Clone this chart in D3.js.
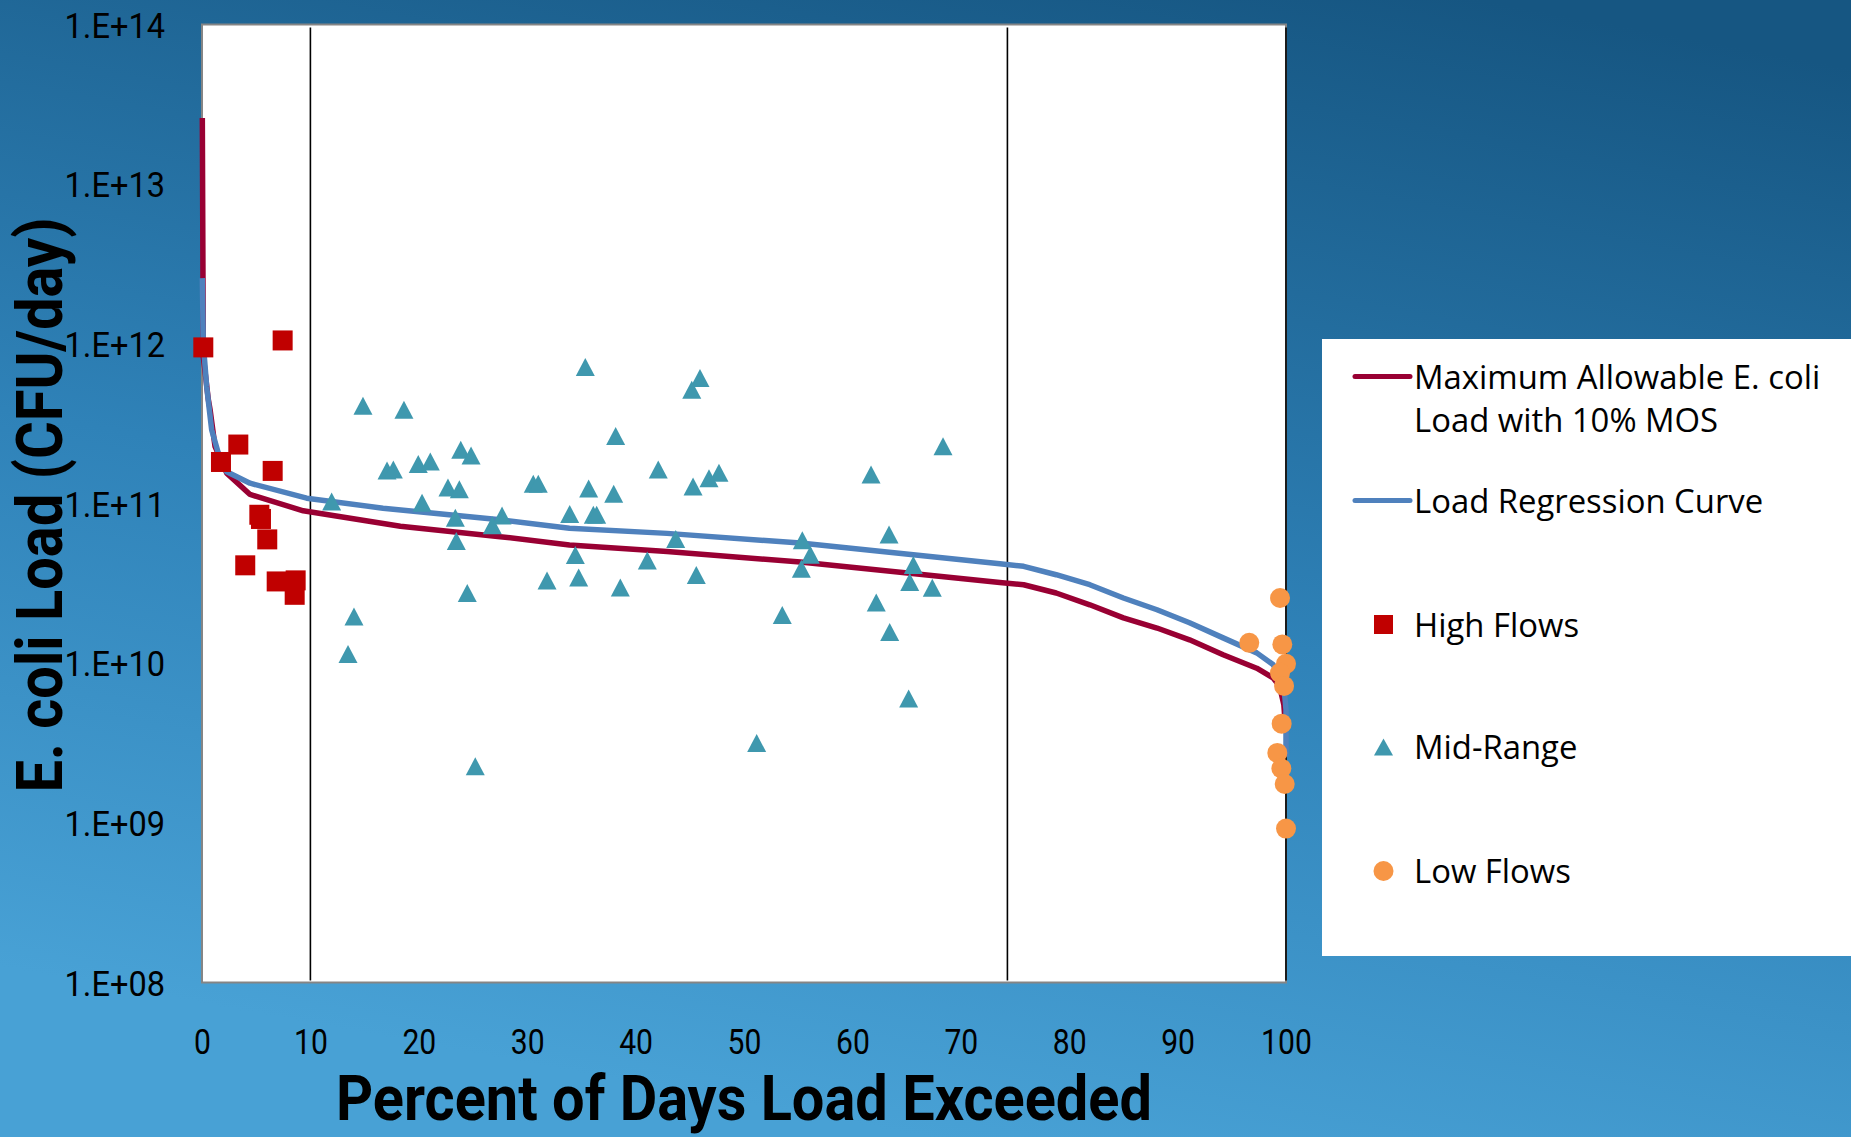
<!DOCTYPE html>
<html>
<head>
<meta charset="utf-8">
<script src="https://cdn.jsdelivr.net/npm/d3@7"></script>
<style>
  html, body { margin: 0; padding: 0; overflow: hidden; }
  svg { display: block; }
</style>
</head>
<body>
<div id="chart"></div>
<script>
// ---- data (percent of days exceeded, E. coli load CFU/day) ----
const xTicks = [0, 10, 20, 30, 40, 50, 60, 70, 80, 90, 100]
const yTicks = [1e8, 1e9, 1e10, 1e11, 1e12, 1e13, 1e14]
const yTickLabels = ['1.E+08', '1.E+09', '1.E+10', '1.E+11', '1.E+12', '1.E+13', '1.E+14']
const zoneBreaks = [10, 74.3, 100]

const maxAllowable = [
  [0.03, 2.6e13], [0.12, 8.3e11], [0.58, 4.5e11], [0.74, 3.9e11], [1.2, 2.28e11],
  [2.28, 1.55e11], [4.43, 1.14e11], [9.34, 9.0e10], [18.3, 7.2e10], [27.5, 6.2e10],
  [33.9, 5.5e10], [42.9, 5.0e10], [55.2, 4.3e10], [73.6, 3.2e10], [75.8, 3.1e10],
  [78.8, 2.75e10], [81.9, 2.32e10], [85.0, 1.92e10], [88.1, 1.66e10], [91.1, 1.40e10],
  [94.2, 1.13e10], [97.3, 9.3e9], [98.8, 8.1e9], [99.4, 7.2e9], [99.8, 5.5e9], [99.95, 4.0e9]
]
const regression = [
  [0.03, 2.58e12], [0.12, 1.0e12], [0.43, 5.4e11], [0.89, 2.9e11], [1.5, 2.07e11],
  [2.28, 1.58e11], [4.43, 1.34e11], [9.66, 1.08e11], [16.7, 9.35e10], [27.5, 7.9e10],
  [33.9, 7.0e10], [42.9, 6.5e10], [55.2, 5.65e10], [73.6, 4.2e10], [75.8, 4.04e10],
  [78.8, 3.58e10], [81.9, 3.1e10], [85.0, 2.56e10], [88.1, 2.16e10], [91.1, 1.79e10],
  [94.2, 1.44e10], [97.3, 1.16e10], [98.8, 9.8e9], [99.75, 7.9e9], [100, 5.1e9], [100, 2.6e9]
]
const highFlows = [
  [0.12, 9.5e11], [7.44, 1.05e12], [3.35, 2.34e11], [1.75, 1.82e11], [6.52, 1.6e11],
  [5.29, 8.5e10], [5.44, 8.0e10], [6.02, 5.96e10], [3.99, 4.1e10], [6.89, 3.25e10],
  [8.64, 3.3e10], [8.55, 2.68e10]
]
const midRange = [
  [14.85, 4.09e11], [18.63, 3.86e11], [23.87, 2.17e11], [24.82, 2.0e11], [17.07, 1.61e11],
  [17.65, 1.63e11], [19.95, 1.77e11], [21.06, 1.83e11], [22.69, 1.26e11], [23.74, 1.23e11],
  [11.96, 1.03e11], [20.30, 1.01e11], [23.37, 8.15e10], [26.78, 7.3e10], [27.68, 8.4e10],
  [23.46, 5.82e10], [24.47, 2.75e10], [14.02, 1.96e10], [13.47, 1.14e10], [25.21, 2.26e9],
  [35.36, 7.15e11], [45.94, 6.1e11], [45.18, 5.15e11], [38.16, 2.65e11], [68.36, 2.28e11],
  [42.09, 1.63e11], [61.72, 1.52e11], [30.56, 1.33e11], [31.02, 1.33e11], [35.67, 1.24e11],
  [37.98, 1.15e11], [45.30, 1.28e11], [46.77, 1.44e11], [47.69, 1.56e11], [33.92, 8.6e10],
  [36.10, 8.5e10], [36.41, 8.5e10], [43.70, 6.0e10], [55.38, 5.88e10], [63.38, 6.4e10],
  [56.12, 4.78e10], [34.44, 4.75e10], [55.29, 3.9e10], [41.08, 4.4e10], [65.62, 4.12e10],
  [65.29, 3.22e10], [67.37, 2.97e10], [31.83, 3.3e10], [34.75, 3.44e10], [45.60, 3.56e10],
  [38.59, 2.98e10], [62.20, 2.40e10], [53.53, 2.0e10], [63.44, 1.57e10], [65.19, 6.0e9],
  [51.17, 3.16e9]
]
const lowFlows = [
  [99.45, 2.56e10], [96.61, 1.34e10], [99.66, 1.31e10], [100, 9.9e9], [99.45, 8.7e9],
  [99.82, 7.2e9], [99.60, 4.18e9], [99.2, 2.74e9], [99.57, 2.19e9], [99.88, 1.75e9],
  [100, 9.2e8]
]
const legendLabels = [
  ['Maximum Allowable E. coli', 'Load with 10% MOS'],
  ['Load Regression Curve'],
  ['High Flows'],
  ['Mid-Range'],
  ['Low Flows']
]

const W = 1851, H = 1137
const colors = { max: '#990033', reg: '#4f81bd', high: '#c00000', mid: '#3f98ae', low: '#f79646' }

const svg = d3.select('#chart').append('svg')
  .attr('width', W).attr('height', H)

// background gradient
const grad = svg.append('defs').append('linearGradient')
  .attr('id', 'bg').attr('x1', 0.8).attr('y1', 0).attr('x2', 0.5).attr('y2', 1)
grad.append('stop').attr('offset', 0).attr('stop-color', '#165682')
grad.append('stop').attr('offset', 0.55).attr('stop-color', '#2f82b8')
grad.append('stop').attr('offset', 1).attr('stop-color', '#48a1d5')
svg.append('rect').attr('width', W).attr('height', H).attr('fill', 'url(#bg)')

const x = d3.scaleLinear().domain([0, 100]).range([202, 1286])
const y = d3.scaleLog().domain([1e8, 1e14]).range([982.5, 24.5])

// squeeze text horizontally to look like the condensed original font
function condense(sel, k) {
  sel.each(function () {
    const len = this.getComputedTextLength()
    d3.select(this).attr('textLength', len * k).attr('lengthAdjust', 'spacingAndGlyphs')
  })
}

// plot area
svg.append('rect')
  .attr('x', x(0)).attr('y', y(1e14))
  .attr('width', x(100) - x(0)).attr('height', y(1e8) - y(1e14))
  .attr('fill', '#fff').attr('stroke', '#858585').attr('stroke-width', 2)

svg.selectAll('line.zone').data(zoneBreaks).enter().append('line')
  .attr('class', 'zone')
  .attr('x1', d => x(d)).attr('x2', d => x(d))
  .attr('y1', y(1e14) + 3).attr('y2', y(1e8) - 2)
  .attr('stroke', '#000').attr('stroke-width', 1.6)

// axes
const yAxis = d3.axisLeft(y).tickValues(yTicks)
  .tickFormat((d, i) => yTickLabels[i]).tickSize(0).tickPadding(37)
const gy = svg.append('g').attr('transform', `translate(${x(0)},0)`).call(yAxis)
gy.select('.domain').remove()
gy.selectAll('text').attr('font-family', 'Roboto, sans-serif').attr('font-size', 35)
  .attr('fill', '#000').attr('dy', '0.36em')
condense(gy.selectAll('text'), 0.93)

const xAxis = d3.axisBottom(x).tickValues(xTicks).tickFormat(d3.format('d')).tickSize(0)
const gx = svg.append('g').attr('transform', `translate(0,${y(1e8)})`).call(xAxis)
gx.select('.domain').remove()
gx.selectAll('text').attr('font-family', 'Roboto, sans-serif').attr('font-size', 35)
  .attr('fill', '#000').attr('y', 1041 - y(1e8)).attr('dy', '0.36em')
condense(gx.selectAll('text'), 0.86)

// titles
const xt = svg.append('text')
  .attr('x', (x(0) + x(100)) / 2).attr('y', 1120)
  .attr('text-anchor', 'middle')
  .attr('font-family', 'Roboto, sans-serif').attr('font-weight', 'bold').attr('font-size', 63)
  .text('Percent of Days Load Exceeded')
xt.attr('textLength', 816).attr('lengthAdjust', 'spacingAndGlyphs')

const yt = svg.append('text')
  .attr('transform', 'translate(62,505) rotate(-90)')
  .attr('text-anchor', 'middle')
  .attr('font-family', 'Roboto, sans-serif').attr('font-weight', 'bold').attr('font-size', 64)
  .text('E. coli Load (CFU/day)')
yt.attr('textLength', 575).attr('lengthAdjust', 'spacingAndGlyphs')

// lines
const line = d3.line().x(d => x(d[0])).y(d => y(d[1]))
svg.append('path').datum(maxAllowable).attr('d', line)
  .attr('fill', 'none').attr('stroke', colors.max).attr('stroke-width', 5.5)
  .attr('stroke-linejoin', 'round')
svg.append('path').datum(regression).attr('d', line)
  .attr('fill', 'none').attr('stroke', colors.reg).attr('stroke-width', 5.5)
  .attr('stroke-linejoin', 'round')

// markers
const tri = (cx, cy, w, h) => `M${cx},${cy - h / 2}L${cx + w / 2},${cy + h / 2}L${cx - w / 2},${cy + h / 2}Z`

svg.selectAll('rect.high').data(highFlows).enter().append('rect')
  .attr('class', 'high')
  .attr('x', d => x(d[0]) - 10).attr('y', d => y(d[1]) - 10)
  .attr('width', 20).attr('height', 20).attr('fill', colors.high)

svg.selectAll('path.mid').data(midRange).enter().append('path')
  .attr('class', 'mid')
  .attr('d', d => tri(x(d[0]), y(d[1]), 19, 18))
  .attr('fill', colors.mid)

svg.selectAll('circle.low').data(lowFlows).enter().append('circle')
  .attr('class', 'low')
  .attr('cx', d => x(d[0])).attr('cy', d => y(d[1])).attr('r', 10)
  .attr('fill', colors.low)

// legend
const lg = svg.append('g')
lg.append('rect').attr('x', 1322).attr('y', 339).attr('width', W - 1322).attr('height', 617)
  .attr('fill', '#fff')

const rowY = [376.6, 500.5, 624.5, 747, 871]
lg.append('line').attr('x1', 1355).attr('x2', 1410).attr('y1', rowY[0]).attr('y2', rowY[0])
  .attr('stroke', colors.max).attr('stroke-width', 5).attr('stroke-linecap', 'round')
lg.append('line').attr('x1', 1355).attr('x2', 1410).attr('y1', rowY[1]).attr('y2', rowY[1])
  .attr('stroke', colors.reg).attr('stroke-width', 5).attr('stroke-linecap', 'round')
lg.append('rect').attr('x', 1374).attr('y', rowY[2] - 9.5).attr('width', 19).attr('height', 19)
  .attr('fill', colors.high)
lg.append('path').attr('d', tri(1383.5, rowY[3], 19, 17)).attr('fill', colors.mid)
lg.append('circle').attr('cx', 1383.5).attr('cy', rowY[4]).attr('r', 10).attr('fill', colors.low)

legendLabels.forEach((lines, i) => {
  lines.forEach((t, j) => {
    lg.append('text')
      .attr('x', 1414).attr('y', rowY[i] + j * 43.5).attr('dy', '0.36em')
      .attr('font-family', "'Open Sans', sans-serif").attr('font-size', 33.5)
      .attr('fill', '#000')
      .text(t)
  })
})
condense(lg.selectAll('text'), 0.98)
</script>
</body>
</html>
